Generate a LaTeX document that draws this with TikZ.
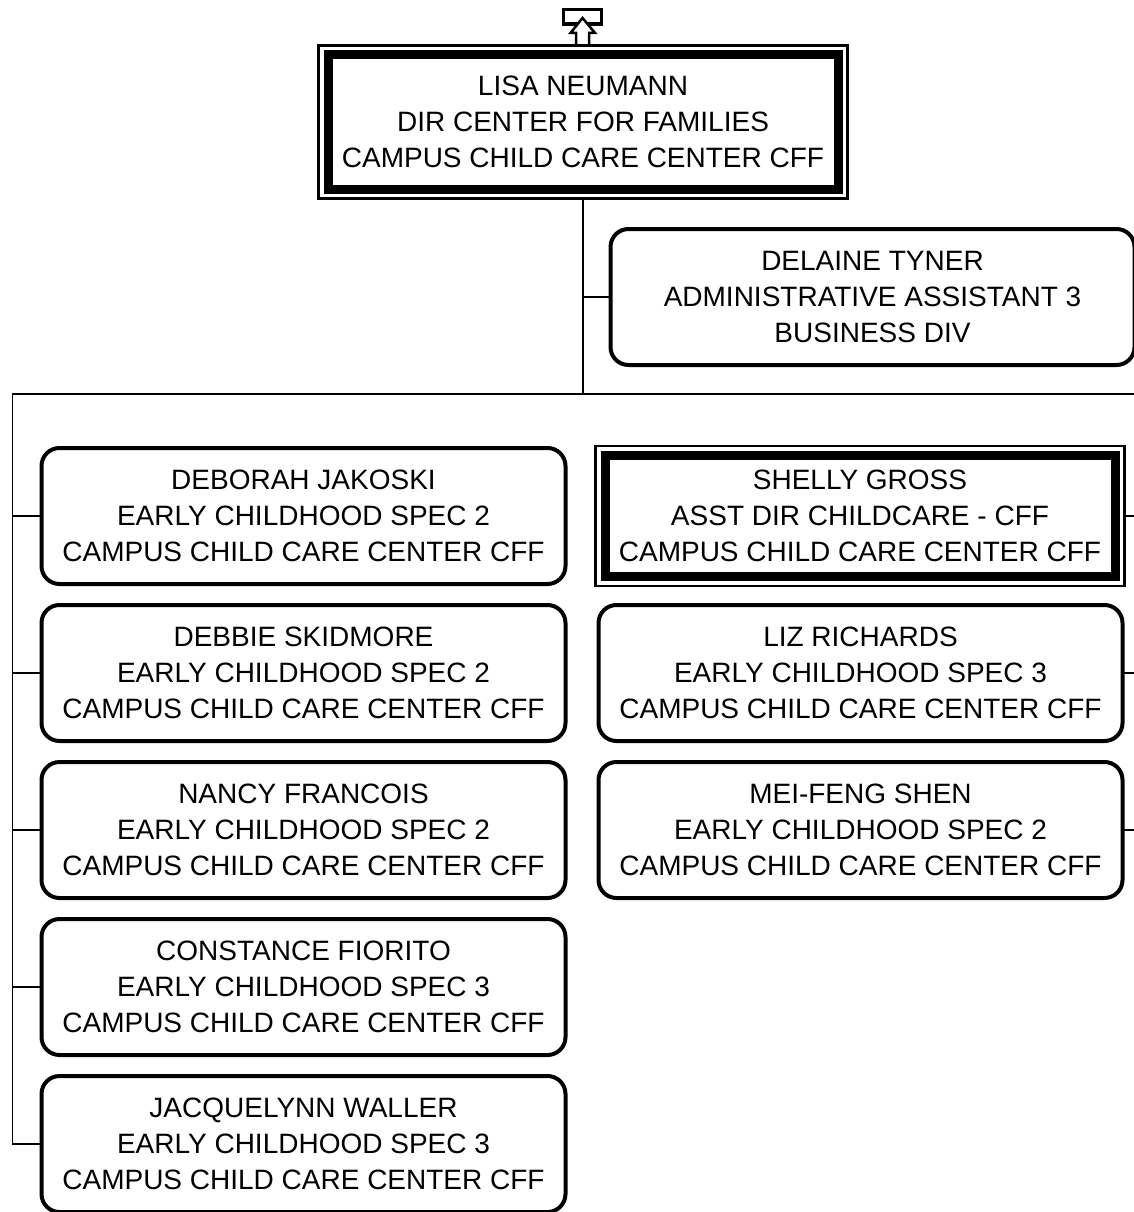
\documentclass[tikz,border=0pt]{standalone}
\usepackage{fontspec}
\setmainfont{Liberation Sans}
\usetikzlibrary{positioning, fit}

\begin{document}
\begin{tikzpicture}[x=1pt, y=-1pt,
    every node/.style={font=\fontsize{28}{36}\selectfont, align=center,
                       inner sep=0pt, outer sep=0pt},
    person/.style={draw, line width=4pt, rounded corners=18pt,
                   minimum width=524pt, minimum height=136pt},
    headbox/.style={draw, line width=9pt, minimum width=510pt},
    frame/.style={draw, line width=2.5pt, inner sep=9.5pt},
    link/.style={line width=1.3pt}
  ]
    \useasboundingbox (0,0) rectangle (1134,1212);

    % director
    \node[headbox, minimum height=134pt] (lisa) at (583,122)
      {LISA NEUMANN\\DIR CENTER FOR FAMILIES\\CAMPUS CHILD CARE CENTER CFF};
    \node[frame, fit=(lisa)] (lisaframe) {};

    % staff
    \node[person] (delaine) at (872.5,297)
      {DELAINE TYNER\\ADMINISTRATIVE ASSISTANT 3\\BUSINESS DIV};

    \node[person] (deborah) at (303.5,516)
      {DEBORAH JAKOSKI\\EARLY CHILDHOOD SPEC 2\\CAMPUS CHILD CARE CENTER CFF};
    \node[person] (debbie) at (303.5,673)
      {DEBBIE SKIDMORE\\EARLY CHILDHOOD SPEC 2\\CAMPUS CHILD CARE CENTER CFF};
    \node[person] (nancy) at (303.5,830)
      {NANCY FRANCOIS\\EARLY CHILDHOOD SPEC 2\\CAMPUS CHILD CARE CENTER CFF};
    \node[person] (constance) at (303.5,987)
      {CONSTANCE FIORITO\\EARLY CHILDHOOD SPEC 3\\CAMPUS CHILD CARE CENTER CFF};
    \node[person] (jacquelynn) at (303.5,1144)
      {JACQUELYNN WALLER\\EARLY CHILDHOOD SPEC 3\\CAMPUS CHILD CARE CENTER CFF};

    \node[headbox, minimum height=121pt] (shelly) at (860,516)
      {SHELLY GROSS\\ASST DIR CHILDCARE - CFF\\CAMPUS CHILD CARE CENTER CFF};
    \node[frame, fit=(shelly)] (shellyframe) {};
    \node[person] (liz) at (860.5,673)
      {LIZ RICHARDS\\EARLY CHILDHOOD SPEC 3\\CAMPUS CHILD CARE CENTER CFF};
    \node[person] (meifeng) at (860.5,830)
      {MEI-FENG SHEN\\EARLY CHILDHOOD SPEC 2\\CAMPUS CHILD CARE CENTER CFF};

    % connectors
    \coordinate (busL) at (12.5,394);
    \coordinate (busR) at (1134,394);
    \draw[link] (lisaframe.south) -- (lisaframe.south |- busL);
    \draw[link] (delaine.west) -- (delaine.west -| lisaframe.south);
    \draw[link] (busR) -- (busL) |- (jacquelynn.west);
    \foreach \n in {deborah, debbie, nancy, constance}
      \draw[link] (\n.west -| busL) -- (\n.west);
    \foreach \n in {shellyframe, liz, meifeng}
      \draw[link] (\n.east) -- (\n.east -| busR);

    % up-link icon
    \node[draw, line width=3.3pt, minimum width=38.5pt, minimum height=14.3pt]
      (uplink) at (582.5,17) {};
    \filldraw[fill=white, line width=2.5pt] (576,44) -- (576,33) -- (570.5,33)
      -- (582.5,18) -- (595,33) -- (589,33) -- (589,44);
  \end{tikzpicture}
\end{document}
